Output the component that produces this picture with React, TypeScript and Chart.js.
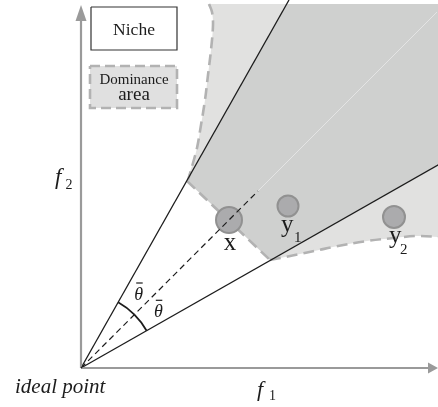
import React, { useEffect, useRef } from "react";
import { Chart, registerables } from "chart.js";

Chart.register(...registerables);

type P = [number, number];

// Objective space: one unit = 10 px, the ideal point sits at the origin.
const F1_RANGE: P = [-8.1, 35.7];
const F2_RANGE: P = [-3.9, 36.8];

// Rays bounding the niche and its bisector
const upperRay: P[] = [[0, 0], [20.8, 36.8]];
const lowerRay: P[] = [[0, 0], [36.5, 20.75]];
const bisectorNear: P[] = [[0, 0], [17.7, 17.7]];
const bisectorFar: P[] = [[17.7, 17.7], [35.6, 35.6]];

// Niche region (dark) and dominance area (light) outlines
const nicheRegion: P[] = [[10.6, 18.7], [18.9, 10.8], [36.5, 20.75], [36.5, 36.4], [20.6, 36.4]];
const dominanceLeftEdge: P[] = [
  [12.8, 36.4], [13.1, 35.6], [13.2, 34.3], [13.0, 31.8], [12.7, 29.3],
  [12.4, 26.8], [12.0, 24.3], [11.6, 22.0], [11.2, 20.5], [10.7, 18.8],
];
const dominanceCut: P[] = [[10.6, 18.7], [18.9, 10.8]];
const dominanceBottomEdge: P[] = [
  [18.9, 10.8], [20.4, 11.1], [21.9, 11.4], [23.8, 11.8], [25.2, 12.1],
  [28.6, 12.7], [31.3, 13.0], [33.6, 13.2], [35.7, 13.1], [36.5, 13.0],
];
const leftFillClosure: P[] = [[17.0, 26.0], [20.6, 36.4]];
const bottomFillClosure: P[] = [[36.5, 25.0], [24.0, 16.0]];

// Axes with arrowheads
const f1Axis: P[] = [[0, 0], [34.9, 0]];
const f1Arrow: P[] = [[34.7, 0.55], [35.7, 0], [34.7, -0.55]];
const f2Axis: P[] = [[0, 0], [0, 34.9]];
const f2Arrow: P[] = [[-0.55, 34.7], [0, 36.3], [0.55, 34.7]];

// Candidate solutions
const solutionNames = ["x", "y1", "y2"];
const solutionF1 = [14.8, 20.7, 31.3];
const solutionF2 = [14.8, 16.2, 15.1];
const solutionSize = [13, 10.5, 11];

// Key boxes
const nicheKey: P[] = [[1.0, 36.1], [9.6, 36.1], [9.6, 31.8], [1.0, 31.8], [1.0, 36.1]];
const dominanceKey: P[] = [[0.9, 30.2], [9.6, 30.2], [9.6, 26.0], [0.9, 26.0], [0.9, 30.2]];

const ARC_RADIUS = 7.55;

const SERIF = '"Liberation Serif", "Times New Roman", serif';
const INK = "#1c1c1c";
const DARK_FILL = "#cfd0cf";
const LIGHT_FILL = "#e1e1e0";
const EDGE_GREY = "#b2b2b2";
const AXIS_GREY = "#9a9a9a";

const pts = (a: P[]) => a.map(([x, y]) => ({ x, y }));

const lineSet = (a: P[], extra: Record<string, unknown>) => ({
  type: "line" as const,
  data: pts(a),
  showLine: true,
  pointRadius: 0,
  pointHoverRadius: 0,
  pointHitRadius: 0,
  tension: 0,
  fill: false,
  borderCapStyle: "butt",
  ...extra,
});

const shapeSet = (a: P[], color: string, extra: Record<string, unknown> = {}) =>
  lineSet(a, {
    fill: "shape",
    backgroundColor: color,
    borderColor: "rgba(0,0,0,0)",
    borderWidth: 1,
    ...extra,
  });

type TextItem = { text: string; at: P; font: string; align: CanvasTextAlign; color?: string };

const textItems: TextItem[] = [
  { text: "Niche", at: [5.3, 33.3], font: `17.5px ${SERIF}`, align: "center" },
  { text: "Dominance", at: [5.3, 28.45], font: `15px ${SERIF}`, align: "center" },
  { text: "area", at: [5.3, 26.85], font: `19px ${SERIF}`, align: "center" },
  { text: "ideal point", at: [-6.6, -2.45], font: `italic 21px ${SERIF}`, align: "left" },
  { text: "f", at: [-2.6, 18.4], font: `italic 23px ${SERIF}`, align: "left" },
  { text: "2", at: [-1.55, 17.95], font: `14px ${SERIF}`, align: "left" },
  { text: "f", at: [17.6, -2.8], font: `italic 22px ${SERIF}`, align: "left" },
  { text: "1", at: [18.8, -3.2], font: `14px ${SERIF}`, align: "left" },
  { text: "x", at: [14.9, 11.8], font: `25px ${SERIF}`, align: "center" },
  { text: "y", at: [20.0, 13.6], font: `25px ${SERIF}`, align: "left" },
  { text: "1", at: [21.3, 12.6], font: `15px ${SERIF}`, align: "left" },
  { text: "y", at: [30.8, 12.5], font: `25px ${SERIF}`, align: "left" },
  { text: "2", at: [31.9, 11.4], font: `15px ${SERIF}`, align: "left" },
];

// theta labels: anchor (glyph centre, baseline)
const thetaLabels: P[] = [[5.77, 6.8], [7.73, 5.07]];

const diagramText = {
  id: "diagramText",
  afterDatasetsDraw(chart: Chart) {
    const { ctx } = chart;
    const sx = chart.scales.x;
    const sy = chart.scales.y;
    const X = (v: number) => sx.getPixelForValue(v);
    const Y = (v: number) => sy.getPixelForValue(v);
    ctx.save();

    // angle arcs between the rays and the bisector
    const cx = X(0);
    const cy = Y(0);
    const r = X(ARC_RADIUS) - X(0);
    const aUp = Math.atan2(upperRay[1][1], upperRay[1][0]);
    const aMid = Math.atan2(bisectorNear[1][1], bisectorNear[1][0]);
    const aLow = Math.atan2(lowerRay[1][1], lowerRay[1][0]);
    ctx.strokeStyle = INK;
    ctx.lineWidth = 1.8;
    ctx.beginPath();
    ctx.arc(cx, cy, r, -aUp, -aMid);
    ctx.stroke();
    ctx.beginPath();
    ctx.arc(cx, cy, r, -aMid, -aLow);
    ctx.stroke();

    ctx.textBaseline = "alphabetic";
    for (const t of textItems) {
      ctx.font = t.font;
      ctx.fillStyle = t.color || INK;
      ctx.textAlign = t.align;
      ctx.fillText(t.text, X(t.at[0]), Y(t.at[1]));
    }

    // theta with an overbar
    ctx.font = `italic 18px ${SERIF}`;
    ctx.textAlign = "center";
    ctx.lineWidth = 1.2;
    for (const [tx, ty] of thetaLabels) {
      const px = X(tx);
      const py = Y(ty);
      ctx.fillText("\u03B8", px, py);
      ctx.beginPath();
      ctx.moveTo(px - 2.5, py - 17);
      ctx.lineTo(px + 4, py - 17);
      ctx.stroke();
    }
    ctx.restore();
  },
};

export default function App() {
  const ref = useRef<HTMLCanvasElement>(null);

  useEffect(() => {
    const layers: any[] = [
      shapeSet([...dominanceLeftEdge, ...leftFillClosure], LIGHT_FILL, { tension: 0.35 }),
      shapeSet([...dominanceBottomEdge, ...bottomFillClosure], LIGHT_FILL, { tension: 0.35 }),
      shapeSet(nicheRegion, DARK_FILL),
      lineSet(dominanceLeftEdge, { borderColor: EDGE_GREY, borderWidth: 2.6, borderDash: [11, 6], tension: 0.35 }),
      lineSet(dominanceCut, { borderColor: EDGE_GREY, borderWidth: 2.6, borderDash: [11, 6] }),
      lineSet(dominanceBottomEdge, { borderColor: EDGE_GREY, borderWidth: 2.6, borderDash: [11, 6], tension: 0.35 }),
      lineSet(bisectorFar, { borderColor: "#e4e4e4", borderWidth: 1 }),
      lineSet(upperRay, { borderColor: INK, borderWidth: 1.3 }),
      lineSet(lowerRay, { borderColor: INK, borderWidth: 1.3 }),
      lineSet(f1Axis, { borderColor: AXIS_GREY, borderWidth: 2.2 }),
      shapeSet(f1Arrow, AXIS_GREY),
      lineSet(f2Axis, { borderColor: AXIS_GREY, borderWidth: 2.2 }),
      shapeSet(f2Arrow, AXIS_GREY),
      {
        type: "scatter" as const,
        data: solutionNames.map((_, i) => ({ x: solutionF1[i], y: solutionF2[i] })),
        showLine: false,
        pointRadius: solutionSize,
        pointHoverRadius: solutionSize,
        pointBackgroundColor: "#ababad",
        pointBorderColor: "#919191",
        pointBorderWidth: 2,
      },
      lineSet(bisectorNear, { borderColor: INK, borderWidth: 1.2, borderDash: [6, 4] }),
      shapeSet(nicheKey, "#ffffff", { borderColor: "#333333", borderWidth: 1.2 }),
      shapeSet(dominanceKey, "#e0e0e0", { borderColor: EDGE_GREY, borderWidth: 2.6, borderDash: [10, 5] }),
    ];
    // first layer is painted first: higher order draws earlier
    const datasets = layers.map((d, i) => ({ ...d, order: layers.length - i, clip: false }));

    const chart = new Chart(ref.current as HTMLCanvasElement, {
      type: "scatter",
      data: { datasets },
      options: {
        responsive: false,
        animation: false,
        events: [],
        layout: { padding: 0, autoPadding: false },
        plugins: { legend: { display: false }, tooltip: { enabled: false } },
        scales: {
          x: { type: "linear", min: F1_RANGE[0], max: F1_RANGE[1], display: false },
          y: { type: "linear", min: F2_RANGE[0], max: F2_RANGE[1], display: false },
        },
      },
      plugins: [diagramText],
    } as any);
    return () => chart.destroy();
  }, []);

  return (
    <div style={{ position: "fixed", left: 0, top: 0, width: 438, height: 407, background: "#ffffff" }}>
      <canvas ref={ref} width={438} height={407} style={{ display: "block" }} />
    </div>
  );
}
